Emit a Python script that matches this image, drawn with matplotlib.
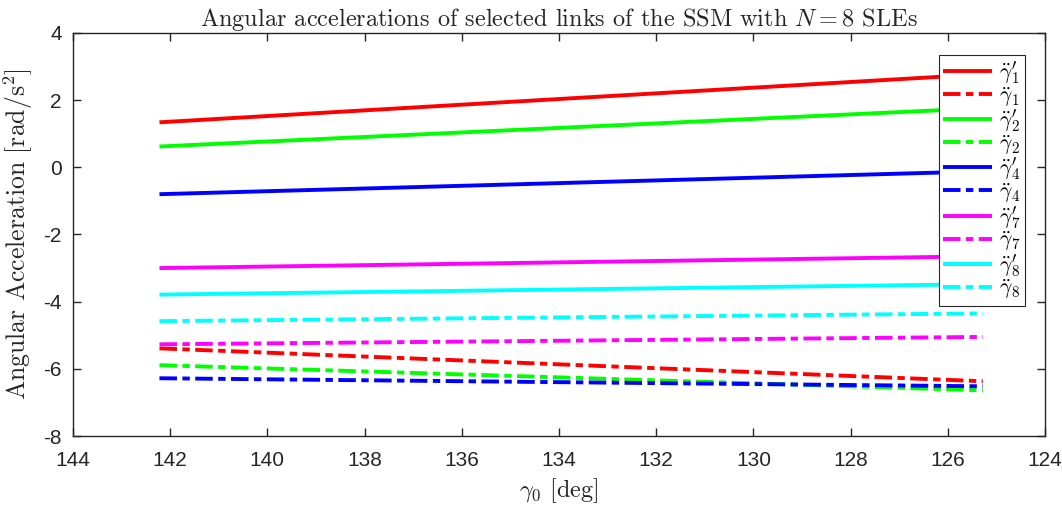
import matplotlib
matplotlib.use("Agg")
import matplotlib.pyplot as plt

plt.rcParams["mathtext.fontset"] = "cm"
plt.rcParams["axes.unicode_minus"] = False
plt.rcParams["font.family"] = ["Liberation Sans", "DejaVu Sans"]

# Sweep of the base angle gamma_0 (deg), first and last sample
gamma0 = [142.22, 125.28]

# Angular accelerations (rad/s^2) at the two ends of the sweep
acc_g1p = [1.34, 2.77]
acc_g1 = [-5.39, -6.37]
acc_g2p = [0.62, 1.76]
acc_g2 = [-5.89, -6.64]
acc_g4p = [-0.80, -0.12]
acc_g4 = [-6.28, -6.52]
acc_g7p = [-3.00, -2.65]
acc_g7 = [-5.27, -5.05]
acc_g8p = [-3.79, -3.48]
acc_g8 = [-4.58, -4.35]

labels = [r"$\ddot{\gamma}_1^{\prime}$", r"$\ddot{\gamma}_1$",
          r"$\ddot{\gamma}_2^{\prime}$", r"$\ddot{\gamma}_2$",
          r"$\ddot{\gamma}_4^{\prime}$", r"$\ddot{\gamma}_4$",
          r"$\ddot{\gamma}_7^{\prime}$", r"$\ddot{\gamma}_7$",
          r"$\ddot{\gamma}_8^{\prime}$", r"$\ddot{\gamma}_8$"]

series = [acc_g1p, acc_g1, acc_g2p, acc_g2, acc_g4p, acc_g4,
          acc_g7p, acc_g7, acc_g8p, acc_g8]
colors = ["#ff0000", "#ff0000", "#00ff00", "#00ff00", "#0000ff", "#0000ff",
          "#ff00ff", "#ff00ff", "#00ffff", "#00ffff"]

fig = plt.figure(figsize=(10.62, 5.05), dpi=100)
ax = fig.add_axes([0.0687, 0.1366, 0.9153, 0.7981])

for i, (vals, col, lab) in enumerate(zip(series, colors, labels)):
    if i % 2 == 0:
        ax.plot(gamma0, vals, color=col, lw=2.8, label=lab, solid_capstyle="butt")
    else:
        ax.plot(gamma0, vals, color=col, lw=2.8, label=lab,
                linestyle=(0, (4.5, 1.4, 1.9, 1.4)), dash_capstyle="butt")

ax.set_xlim(144, 124)
ax.set_ylim(-8, 4)
ax.set_xticks(range(144, 123, -2))
ax.set_yticks(range(-8, 5, 2))
ax.tick_params(direction="in", length=6, width=1.0, labelsize=15,
               top=True, right=True, colors="#262626")
ax.tick_params(axis="x", pad=11)
ax.tick_params(axis="y", pad=8)
for sp in ax.spines.values():
    sp.set_linewidth(1.0)
    sp.set_color("#262626")

ax.set_xlabel(r"$\gamma_0$ [deg]", fontsize=17.5, family="cmr10", color="#262626",
              labelpad=4)
ax.set_ylabel(r"Angular Acceleration [rad/s$^2$]", fontsize=18.5, family="cmr10",
              color="#262626", labelpad=6)
ax.set_title(r"Angular accelerations of selected links of the SSM with $N=8$ SLEs",
             fontsize=17.5, family="cmr10", color="#262626", pad=5)

leg = ax.legend(loc="upper right", bbox_to_anchor=(0.979, 0.945), fontsize=15.5,
                frameon=True, fancybox=False, edgecolor="#262626", framealpha=1,
                handlelength=2.3, handletextpad=0.3, labelspacing=-0.06,
                borderpad=0.2, borderaxespad=0.0)
leg.get_frame().set_linewidth(0.8)

fig.savefig("out.png", dpi=100)
